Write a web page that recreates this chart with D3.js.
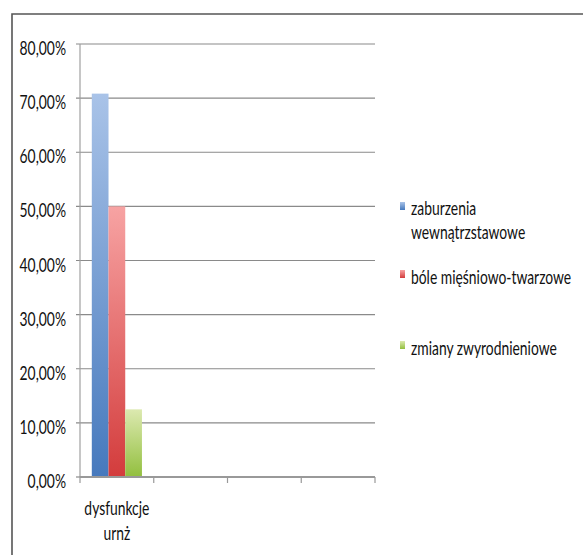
<!DOCTYPE html>
<html>
<head>
<meta charset="utf-8">
<script src="https://cdn.jsdelivr.net/npm/d3@7"></script>
<style>
  html, body { margin: 0; padding: 0; background: #fff; }
  svg { display: block; }
  text { font-family: Lato, "Open Sans", sans-serif; fill: #111; }
</style>
</head>
<body>
<svg id="chart" width="583" height="555"></svg>
<script>
// Category slots on the x axis (only the first one carries data)
const categoryLabels = [["dysfunkcje", "urnż"], [], [], []];
// Series names as shown in the legend (wrapped lines)
const seriesNames = ["zaburzenia wewnątrzstawowe", "bóle mięśniowo-twarzowe", "zmiany zwyrodnieniowe"];
const legendLines = [["zaburzenia", "wewnątrzstawowe"], ["bóle mięśniowo-twarzowe"], ["zmiany zwyrodnieniowe"]];
// Series values per category
const valuesZaburzenia = [0.7083];
const valuesBole = [0.5];
const valuesZmiany = [0.125];
// Y axis ticks
const yTicks = [0, 0.1, 0.2, 0.3, 0.4, 0.5, 0.6, 0.7, 0.8];
const yTickLabels = ["0,00%", "10,00%", "20,00%", "30,00%", "40,00%", "50,00%", "60,00%", "70,00%", "80,00%"];

const seriesValues = [valuesZaburzenia, valuesBole, valuesZmiany];
const colors = [
  { top: "#a9c3e8", bottom: "#4679bd" },
  { top: "#f7a3a3", bottom: "#d33c3c" },
  { top: "#dce9b0", bottom: "#92bf3e" }
];

const svg = d3.select("#chart");
const SX = 0.73; // narrow type

function narrowText(g, x, y, str, anchor, size) {
  return g.append("text")
    .attr("transform", `translate(${x},${y}) scale(${SX},1)`)
    .attr("text-anchor", anchor)
    .attr("font-size", size)
    .text(str);
}

// gradients
const defs = svg.append("defs");
colors.forEach((c, i) => {
  const lg = defs.append("linearGradient").attr("id", "g" + i)
    .attr("x1", 0).attr("y1", 0).attr("x2", 0).attr("y2", 1);
  lg.append("stop").attr("offset", "0%").attr("stop-color", c.top);
  lg.append("stop").attr("offset", "100%").attr("stop-color", c.bottom);
});

// outer frame (top and left edges)
svg.append("path")
  .attr("d", "M12,555 L12,14 L583,14")
  .attr("fill", "none").attr("stroke", "#555").attr("stroke-width", 1.6);

const plotLeft = 80, plotRight = 375, plotTop = 44, plotBottom = 477;

const y = d3.scaleLinear().domain([0, 0.8]).range([plotBottom, plotTop]);
const x = d3.scaleBand().domain(d3.range(categoryLabels.length)).range([plotLeft, plotRight]).padding(0);
const bw = x.bandwidth();
const xs = d3.scaleBand().domain(d3.range(seriesNames.length)).range([bw * 0.16, bw * 0.84]).padding(0);

// gridlines with left ticks, and tick labels
const grid = svg.append("g");
yTicks.forEach((t, i) => {
  if (t > 0) {
    grid.append("line")
      .attr("x1", plotLeft - 4).attr("x2", plotRight)
      .attr("y1", y(t)).attr("y2", y(t))
      .attr("stroke", "#8a8a8a").attr("stroke-width", 1.2);
  }
  narrowText(svg, 66, y(t) + 11, yTickLabels[i], "end", 19);
});

// y axis line
svg.append("line")
  .attr("x1", plotLeft).attr("x2", plotLeft)
  .attr("y1", plotTop).attr("y2", plotBottom)
  .attr("stroke", "#a0a0a0").attr("stroke-width", 1.2);
svg.append("line")
  .attr("x1", plotLeft - 4).attr("x2", plotLeft)
  .attr("y1", plotBottom).attr("y2", plotBottom)
  .attr("stroke", "#8a8a8a").attr("stroke-width", 1.2);

// bars
seriesValues.forEach((vals, s) => {
  svg.append("g").selectAll("rect")
    .data(vals)
    .join("rect")
    .attr("x", (d, i) => x(i) + xs(s))
    .attr("width", xs.bandwidth())
    .attr("y", d => y(d))
    .attr("height", d => y(0) - y(d))
    .attr("fill", `url(#g${s})`);
});

// x axis line and category ticks
svg.append("line")
  .attr("x1", plotLeft).attr("x2", plotRight)
  .attr("y1", plotBottom).attr("y2", plotBottom)
  .attr("stroke", "#999").attr("stroke-width", 1.8);
const bounds = d3.range(categoryLabels.length + 1).map(i => i < categoryLabels.length ? x(i) : x(i - 1) + bw);
bounds.forEach(b => {
  svg.append("line")
    .attr("x1", b).attr("x2", b)
    .attr("y1", plotBottom).attr("y2", plotBottom + 6)
    .attr("stroke", "#999").attr("stroke-width", 1.2);
});

// category labels
categoryLabels.forEach((lines, i) => {
  lines.forEach((ln, j) => {
    narrowText(svg, x(i) + bw / 2, 515 + j * 25, ln, "middle", 19);
  });
});

// legend
const legendSwatchY = [202, 270, 341];
const legendBaseline = [215, 284, 355];
legendLines.forEach((lines, s) => {
  svg.append("rect")
    .attr("x", 400).attr("y", legendSwatchY[s])
    .attr("width", 5).attr("height", 8)
    .attr("fill", `url(#g${s})`);
  lines.forEach((ln, j) => {
    narrowText(svg, 411, legendBaseline[s] + j * 24, ln, "start", 19);
  });
});
</script>
</body>
</html>
